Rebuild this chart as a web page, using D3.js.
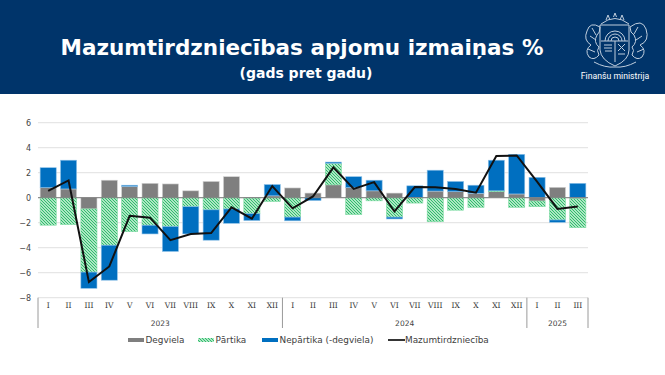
<!DOCTYPE html>
<html><head><meta charset="utf-8">
<script src="https://cdn.jsdelivr.net/npm/d3@7"></script>
<style>
html,body{margin:0;padding:0;background:#fff;overflow:hidden}
svg{display:block}
text{font-family:"DejaVu Sans",sans-serif}
</style></head><body>
<svg id="c" width="665" height="375"></svg>
<script>
const months = ["I","II","III","IV","V","VI","VII","VIII","IX","X","XI","XII","I","II","III","IV","V","VI","VII","VIII","IX","X","XI","XII","I","II","III"];
const years = [{label:"2023",n:12},{label:"2024",n:12},{label:"2025",n:3}];
const degviela = [0.8,0.7,-0.9,1.4,0.9,1.15,1.1,0.55,1.3,1.68,-0.03,0.15,0.78,0.37,1.03,0.8,0.55,0.37,0.03,0.53,0.48,0.35,0.48,0.3,-0.27,0.83,-0.08];
const partika = [-2.2,-2.15,-5.05,-3.8,-2.72,-2.2,-2.3,-0.72,-0.97,-0.9,-1.25,-0.3,-1.55,0.0,1.72,-1.35,-0.25,-1.55,-0.43,-1.92,-1.0,-0.77,0.07,-0.77,-0.45,-1.78,-2.32];
const neparatika = [1.6,2.3,-1.3,-2.8,0.1,-0.7,-2.0,-2.18,-2.43,-1.15,-0.55,0.9,-0.3,-0.23,0.1,0.88,0.85,-0.15,0.92,1.67,0.82,0.65,2.45,3.17,1.63,-0.19,1.15];
const mazumtirdznieciba = [0.55,1.38,-6.75,-5.5,-1.45,-1.6,-3.4,-2.9,-2.83,-0.77,-1.68,0.93,-0.85,0.1,2.43,0.7,1.25,-1.1,0.85,0.83,0.7,0.4,3.33,3.38,1.28,-0.9,-0.7];
const yTicks = [-8,-6,-4,-2,0,2,4,6];
const seriesNames = ["Degviela","Pārtika","Nepārtika (-degviela)","Mazumtirdzniecība"];
const titleText = "Mazumtirdzniecības apjomu izmaiņas %";
const subtitleText = "(gads pret gadu)";
const orgText = "Finanšu ministrija";

const svg = d3.select("#c");
const defs = svg.append("defs");
const pat = defs.append("pattern").attr("id","hatch").attr("width",3).attr("height",3)
  .attr("patternUnits","userSpaceOnUse");
pat.append("rect").attr("width",3).attr("height",3).attr("fill","#aee6c4");
[[0,0],[1,1],[2,2]].forEach(p=>pat.append("rect").attr("x",p[0]).attr("y",p[1]).attr("width",1).attr("height",1).attr("fill","#2fbd6c"));

// header
svg.append("rect").attr("width",665).attr("height",94).attr("fill","#00346a");
svg.append("text").attr("x",302).attr("y",55).attr("text-anchor","middle")
  .attr("fill","#fff").style("font-weight","bold").style("font-size","21.5px").text(titleText);
svg.append("text").attr("x",306).attr("y",78).attr("text-anchor","middle")
  .attr("fill","#fff").style("font-weight","bold").style("font-size","14px").text(subtitleText);

// emblem
const em = svg.append("g").attr("fill","none").attr("stroke","#d5dfea").attr("stroke-width",1).attr("opacity",0.9);
em.append("path").attr("d","M600 25 H629 V50 Q629 60 615 66 Q601 60 600 50 Z");
em.append("path").attr("d","M605 41 A10 10 0 0 1 625 41");
em.append("path").attr("d","M608 41 A7 7 0 0 1 622 41");
em.append("path").attr("d","M611 41 A4 4 0 0 1 619 41");
em.append("path").attr("d","M601 41 H628 M615 41 V62");
em.append("path").attr("d","M604 45 l8 0 M604 48 l8 0 M605 51 l7 0 M618 44 l7 7 M625 44 l-7 7 M618 54 l7 0");
em.append("path").attr("d","M600 27 Q590 21 587 31 Q583 40 591 45 Q584 50 589 57 Q594 61 599 55 Q596 50 599 47 Q593 42 597 35 Q600 33 600 27 Z");
em.append("path").attr("d","M630 27 Q642 18 646 29 Q650 41 640 45 Q647 50 642 57 Q637 61 632 55 Q635 50 632 47 Q638 42 634 35 Q630 33 630 27 Z");
em.append("path").attr("d","M590 36 l6 4 M588 49 l7 3 M592 28 l4 7 M642 36 l-6 4 M644 49 l-7 3 M638 27 l-4 7");
em.append("path").attr("d","M601 24 Q615 13 629 24");
em.append("path").attr("d","M606 20 l2 -5 l2 5 M613.5 17 l1.5 -4 l1.5 4 M620 20 l2 -5 l2 5");
em.append("path").attr("d","M594 62 Q605 68 615 67 Q625 68 636 62");
svg.append("text").attr("x",615).attr("y",78.5).attr("text-anchor","middle").attr("fill","#fff")
  .style("font-family","Roboto,sans-serif").style("font-size","8.7px").text(orgText);

// scales
const xLeft = 38, xRight = 588, yTop = 122.7, yBottom = 297.7;
const x = d3.scaleBand().domain(d3.range(months.length)).range([xLeft,xRight]).paddingInner(0.21).paddingOuter(0.105);
const y = d3.scaleLinear().domain([-8,6]).range([yBottom,yTop]);

// grid
svg.append("g").selectAll("line").data(yTicks).join("line")
  .attr("x1",xLeft).attr("x2",xRight).attr("y1",d=>y(d)).attr("y2",d=>y(d))
  .attr("stroke","#e6e6e6").attr("stroke-width",1.2);

// stacked bars
const rows = months.map((m,i)=>({i,Degviela:degviela[i],"Pārtika":partika[i],"Nepārtika (-degviela)":neparatika[i]}));
const stacked = d3.stack().keys(seriesNames.slice(0,3)).offset(d3.stackOffsetDiverging)(rows);
const fills = {"Degviela":"#7f7f7f","Pārtika":"url(#hatch)","Nepārtika (-degviela)":"#006fc0"};
const strokes = {"Degviela":"#d2d2d2","Pārtika":"#7fdba3","Nepārtika (-degviela)":"#8fc2e8"};
svg.append("g").selectAll("g").data(stacked).join("g").each(function(s){
  d3.select(this).selectAll("rect").data(s).join("rect")
    .attr("x",(d)=>x(d.data.i)).attr("width",x.bandwidth())
    .attr("y",d=>y(Math.max(d[0],d[1]))).attr("height",d=>Math.abs(y(d[0])-y(d[1])))
    .attr("fill",fills[s.key]).attr("stroke",d=>Math.abs(d[1]-d[0])>0.02?strokes[s.key]:"none").attr("stroke-width",0.6);
});

// zero line
svg.append("line").attr("x1",xLeft).attr("x2",xRight).attr("y1",y(0)).attr("y2",y(0))
  .attr("stroke","#7a7a7a").attr("stroke-width",1);

// total line
const line = d3.line().x((d,i)=>x(i)+x.bandwidth()/2).y(d=>y(d));
svg.append("path").datum(mazumtirdznieciba).attr("d",line).attr("fill","none")
  .attr("stroke","#111").attr("stroke-width",2).attr("stroke-linejoin","miter");

// y axis
const ya = svg.append("g").attr("transform",`translate(${xLeft},0)`)
  .call(d3.axisLeft(y).tickValues(yTicks).tickSize(0).tickPadding(7).tickFormat(d3.format("d")));
ya.select(".domain").remove();
ya.selectAll("text").style("font-size","8px").style("font-family","DejaVu Sans").attr("fill","#444");

// month axis
const xa = svg.append("g").attr("transform",`translate(0,${yBottom})`)
  .call(d3.axisBottom(x).tickSize(0).tickPadding(5).tickFormat(i=>months[i]));
xa.select(".domain").remove();
xa.selectAll("text").style("font-size","7.5px").style("font-family","DejaVu Serif").attr("fill","#333");

// year groups
let cum = 0;
const edge = k => xLeft + (xRight-xLeft)*k/months.length;
const yrs = years.map(o=>{const r={...o,from:cum,to:cum+o.n};cum+=o.n;return r;});
svg.append("g").selectAll("line").data([0,...yrs.map(o=>o.to)]).join("line")
  .attr("x1",edge).attr("x2",edge).attr("y1",yBottom).attr("y2",328)
  .attr("stroke","#9a9a9a").attr("stroke-width",1);
svg.append("g").selectAll("text").data(yrs).join("text")
  .attr("x",o=>(edge(o.from)+edge(o.to))/2).attr("y",326).attr("text-anchor","middle")
  .attr("fill","#444").style("font-size","7.5px").text(o=>o.label);

// legend
const legendX = [128,198,262,388];
const lg = svg.append("g").selectAll("g").data(seriesNames).join("g")
  .attr("transform",(d,i)=>`translate(${legendX[i]},340)`);
lg.each(function(d,i){
  const g = d3.select(this);
  if(i<3) g.append("rect").attr("y",-2).attr("width",16).attr("height",4).attr("fill",fills[d]);
  else g.append("line").attr("x2",17).attr("stroke","#111").attr("stroke-width",1.7);
  g.append("text").attr("x",i===3?17:17.5).attr("y",3.3).attr("fill","#404040").style("font-size","8.9px").text(d);
});
</script>
</body></html>
